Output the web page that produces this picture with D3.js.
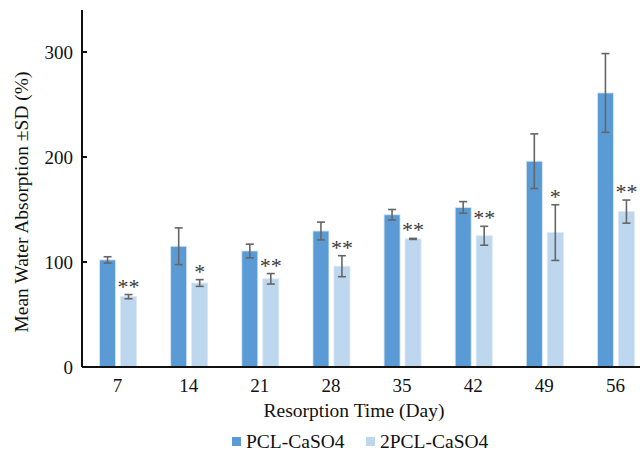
<!DOCTYPE html>
<html>
<head>
<meta charset="utf-8">
<script src="https://d3js.org/d3.v7.min.js"></script>
<style>
    body { margin: 0; background: #fff; }
    text { font-family: "Liberation Serif", "Times New Roman", serif; fill: #111; }
</style>
</head>
<body>
<svg></svg>
<script>
// Data
const days = ["7", "14", "21", "28", "35", "42", "49", "56"]
const pclMean = [102, 115, 110.5, 129.5, 145, 152, 196, 261]
const pclSD = [3, 17.5, 6.5, 8.5, 5, 5.5, 26, 37.5]
const pcl2Mean = [67, 80, 84, 96, 122, 125, 128, 148]
const pcl2SD = [2, 3.2, 5, 10, 0.5, 9, 26.5, 11]
const stars = ["**", "*", "**", "**", "**", "**", "*", "**"]
const yTicks = [0, 100, 200, 300]
const seriesNames = ["PCL-CaSO4", "2PCL-CaSO4"]

const width = 640, height = 456
const colors = ["#5b9bd5", "#bdd7ee"]

const svg = d3.select("svg").attr("width", width).attr("height", height)

const x = d3.scaleBand().domain(days).range([82, 651])
const y = d3.scaleLinear().domain([0, 340]).range([367, 10])

const barW = 16, gap = 5

// bars
const groups = svg.append("g").selectAll("g")
    .data(days)
    .join("g")
    .attr("transform", d => "translate(" + (x(d) + x.bandwidth() / 2) + ",0)")

const series = [
    {mean: pclMean, sd: pclSD, dx: -barW - gap / 2 + 0.5, color: colors[0]},
    {mean: pcl2Mean, sd: pcl2SD, dx: gap / 2 + 0.5, color: colors[1]}
]

series.forEach(s => {
    groups.append("rect")
        .attr("x", s.dx)
        .attr("width", barW)
        .attr("y", (d, i) => y(s.mean[i]))
        .attr("height", (d, i) => y(0) - y(s.mean[i]))
        .attr("fill", s.color)
        .attr("stroke", "#dbe8f5")
        .attr("stroke-width", 0.8)
    // error bars
    const cx = s.dx + barW / 2
    groups.append("line")
        .attr("x1", cx).attr("x2", cx)
        .attr("y1", (d, i) => y(s.mean[i] + s.sd[i]))
        .attr("y2", (d, i) => y(s.mean[i] - s.sd[i]))
        .attr("stroke", "#666").attr("stroke-width", 1.6)
    ;[1, -1].forEach(sign => {
        groups.append("line")
            .attr("x1", cx - 4).attr("x2", cx + 4)
            .attr("y1", (d, i) => y(s.mean[i] + sign * s.sd[i]))
            .attr("y2", (d, i) => y(s.mean[i] + sign * s.sd[i]))
            .attr("stroke", "#666").attr("stroke-width", 1.6)
    })
})

// significance stars
groups.append("text")
    .attr("x", gap / 2 + 0.5 + barW / 2)
    .attr("y", (d, i) => y(pcl2Mean[i] + pcl2SD[i]) - 1)
    .attr("text-anchor", "middle")
    .style("font-size", "22px")
    .style("fill", "#3a3a3a")
    .text((d, i) => stars[i])

// axes
const axisG = svg.append("g")
axisG.append("line")
    .attr("x1", 82).attr("x2", 640)
    .attr("y1", y(0)).attr("y2", y(0))
    .attr("stroke", "#111").attr("stroke-width", 2)
axisG.append("line")
    .attr("x1", 82).attr("x2", 82)
    .attr("y1", y(0)).attr("y2", y(340))
    .attr("stroke", "#111").attr("stroke-width", 2)

axisG.selectAll(".ytick")
    .data(yTicks)
    .join("line")
    .attr("x1", 82).attr("x2", 87)
    .attr("y1", d => y(d)).attr("y2", d => y(d))
    .attr("stroke", "#111").attr("stroke-width", 2)

axisG.selectAll(".ylab")
    .data(yTicks)
    .join("text")
    .attr("x", 73)
    .attr("y", d => y(d) + 6.5)
    .attr("text-anchor", "end")
    .style("font-size", "19px")
    .text(d => d)

axisG.selectAll(".xlab")
    .data(days)
    .join("text")
    .attr("x", d => x(d) + x.bandwidth() / 2)
    .attr("y", 392)
    .attr("text-anchor", "middle")
    .style("font-size", "19px")
    .text(d => d)

// axis titles
svg.append("text")
    .attr("x", 354)
    .attr("y", 417)
    .attr("text-anchor", "middle")
    .style("font-size", "19.5px")
    .text("Resorption Time (Day)")

svg.append("text")
    .attr("transform", "translate(28,202) rotate(-90)")
    .attr("text-anchor", "middle")
    .style("font-size", "19.5px")
    .text("Mean Water Absorption ±SD (%)")

// legend
const legend = svg.append("g")
const legX = [232, 366]
seriesNames.forEach((name, i) => {
    legend.append("rect")
        .attr("x", legX[i]).attr("y", 437)
        .attr("width", 9).attr("height", 9)
        .attr("fill", colors[i])
    legend.append("text")
        .attr("x", legX[i] + 14).attr("y", 448)
        .style("font-size", "19.5px")
        .text(name)
})
</script>
</body>
</html>
